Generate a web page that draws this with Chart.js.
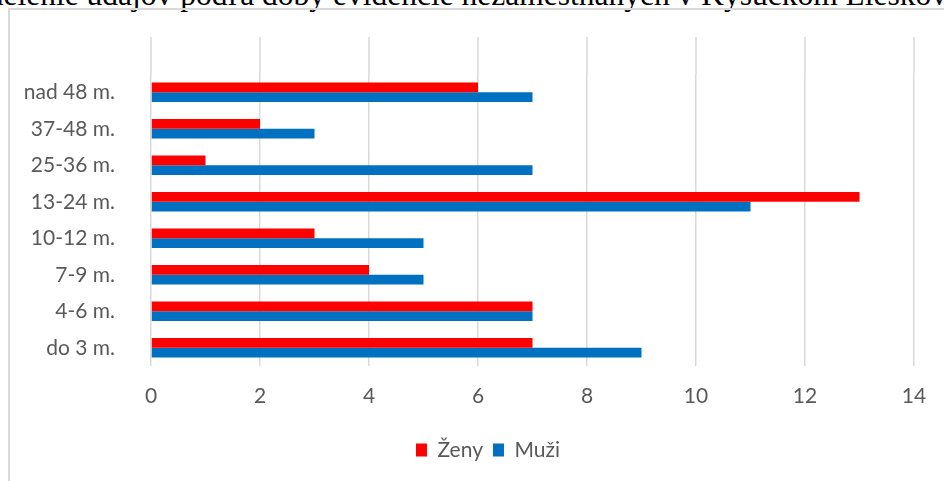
<!DOCTYPE html>
<html>
<head>
<meta charset="utf-8">
<script src="https://cdn.jsdelivr.net/npm/chart.js@4.4.1/dist/chart.umd.min.js"></script>
<style>
  html, body { margin: 0; padding: 0; background: #fff; }
  body { width: 944px; height: 481px; overflow: hidden; position: relative; }
  .caption {
    position: absolute; left: -63px; top: -21px; white-space: nowrap;
    font-family: "Liberation Serif", serif; font-size: 31.5px; line-height: 31.5px; color: #000;
  }
  .frame {
    position: absolute; left: 8px; top: 8px; width: 958px; height: 480px;
    border: 2px solid #d9d9d9;
  }
</style>
</head>
<body>
<div class="caption">Rozdelenie údajov podľa doby evidencie nezamestnaných v Kysuckom Lieskovci</div>
<div class="frame"><canvas id="chart" width="958" height="480"></canvas></div>
<script>
  // Categories top to bottom
  const categories = ['nad 48 m.', '37-48 m.', '25-36 m.', '13-24 m.', '10-12 m.', '7-9 m.', '4-6 m.', 'do 3 m.'];
  const zeny = [6, 2, 1, 13, 3, 4, 7, 7];
  const muzi = [7, 3, 7, 11, 5, 5, 7, 9];
  const xTicks = [0, 2, 4, 6, 8, 10, 12, 14];

  const FONT = 'Lato';
  const GRAY = '#595959';
  const GRID = '#d9d9d9';

  // Excel draws the value gridlines a bit higher than the first category band
  const gridTop = {
    id: 'gridTop',
    beforeDatasetsDraw(chart) {
      const x = chart.scales.x;
      const ctx = chart.ctx;
      ctx.save();
      ctx.strokeStyle = GRID;
      ctx.lineWidth = 1.5;
      xTicks.forEach(v => {
        const px = x.getPixelForValue(v);
        ctx.beginPath();
        ctx.moveTo(px, 27);
        ctx.lineTo(px, chart.chartArea.top);
        ctx.stroke();
      });
      ctx.restore();
    }
  };

  // legend is centred on the whole (cropped) frame, not the layout box
  const legendShift = {
    id: 'legendShift',
    afterLayout(chart) {
      const l = chart.legend;
      l.left += 25;
      l.right += 25;
    }
  };

  new Chart(document.getElementById('chart'), {
    type: 'bar',
    data: {
      labels: categories,
      datasets: [
        { label: 'Ženy', data: zeny, backgroundColor: '#ff0000', categoryPercentage: 0.54, barPercentage: 1.0 },
        { label: 'Muži', data: muzi, backgroundColor: '#0070c0', categoryPercentage: 0.54, barPercentage: 1.0 }
      ]
    },
    options: {
      indexAxis: 'y',
      responsive: false,
      animation: false,
      layout: { padding: { top: 64, left: 2, right: 54, bottom: 19.5 } },
      scales: {
        x: {
          min: 0, max: 14,
          afterBuildTicks: s => { s.ticks = xTicks.map(v => ({ value: v })); },
          afterFit: s => { s.height = 63.5; },
          grid: { color: GRID, lineWidth: 1.5, drawTicks: false },
          border: { display: false },
          ticks: { color: GRAY, font: { family: FONT, size: 21 }, padding: 18 }
        },
        y: {
          afterFit: s => { s.width = 139; },
          grid: { display: false },
          border: { display: false },
          ticks: { color: GRAY, font: { family: FONT, size: 21 }, padding: 28 }
        }
      },
      plugins: {
        legend: {
          position: 'bottom',
          labels: {
            color: GRAY,
            font: { family: FONT, size: 21 },
            boxWidth: 11, boxHeight: 13, padding: 10
          }
        },
        tooltip: { enabled: false }
      }
    },
    plugins: [gridTop, legendShift]
  });
</script>
</body>
</html>
